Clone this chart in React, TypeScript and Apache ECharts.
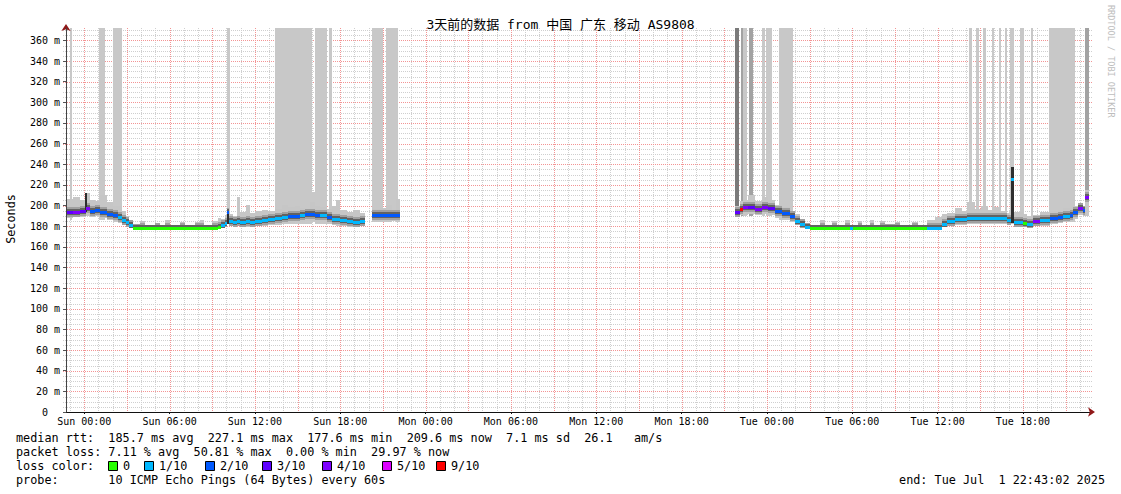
import React, { useEffect, useRef } from 'react';
import * as echarts from 'echarts';

const FONT = '"DejaVu Sans Mono", "Noto Sans CJK SC", monospace';

const chartTitle = '3天前的数据 from 中国 广东 移动 AS9808';
const dayNames = ['Sun', 'Mon', 'Tue'];
const xLabelHours = [0, 6, 12, 18, 24, 30, 36, 42, 48, 54, 60, 66];
const yTickValues = [0, 20, 40, 60, 80, 100, 120, 140, 160, 180, 200, 220, 240, 260, 280, 300, 320, 340, 360];
const xMin = -1.2828; // Sat 22:43:02
const xMax = 70.7172; // Tue 22:43:02
const yMax = 372;

// start hour of each step (hours from Sun 00:00); null median = no data
const times = [
  -1.28, -0.77, -0.28, 0.14, 0.42, 0.77, 1.13, 1.62, 2.04, 2.39, 2.67, 2.95, 3.16, 3.45, 3.94, 4.29, 4.99, 5.34, 5.7, 6.05,
  6.75, 7.1, 7.81, 8.16, 8.44, 9.0, 9.42, 9.63, 9.92, 10.06, 10.2, 10.48, 10.76, 10.97, 11.39, 11.67, 12.03, 12.52, 12.94, 13.43,
  13.92, 14.35, 14.84, 15.19, 15.54, 15.89, 16.24, 16.6, 17.09, 17.44, 17.72, 18.0, 18.5, 18.92, 19.41, 19.76, 20.25, 20.82, 21.24, 21.66,
  21.94, 22.22,
  45.78, 46.13, 46.34, 46.69, 47.19, 47.68, 48.1, 48.59, 49.09, 49.65, 50.0, 50.35, 50.7, 51.05, 51.76, 52.11, 52.6, 52.95, 53.52, 53.87,
  54.08, 54.43, 54.71, 55.27, 55.56, 55.98, 56.33, 57.03, 57.38, 58.23, 58.65, 59.28, 59.85, 60.34, 60.69, 61.25, 61.74, 62.1, 62.66, 63.02,
  63.52, 63.85, 64.42, 64.91, 65.19, 65.4, 66.03, 66.31, 66.74, 67.23, 67.93, 68.5, 68.85, 69.34, 69.55, 69.9, 70.25, 70.39, 70.67,
];
const median = [
  194, 194, 195, 198, 195, 196, 194, 192, 191, 189, 186, 184, 181, 178.5, 178, 178, 178, 178, 178, 178,
  178, 178, 178, 178, 178, 178.5, 179, 181, 183, 193.5, 185, 184, 185, 184.5, 185, 184.5, 185.5, 186, 187, 188,
  189, 189.5, 190, 191, 191.5, 192, 190.5, 191, 189, 187, 186.5, 186, 185, 184.5, 185.5, null, 190.5, 191, 190.5, 191,
  190.5, null,
  194, 196.5, 198.5, 198.5, 197, 198.5, 197.5, 194.5, 192.5, 189.5, 185.5, 182, 179, 178, 178, 178, 178, 178, 178, 178,
  178, 178, 178, 178, 178, 178.5, 178, 178, 178, 178, 178, 178.5, 178.5, 182.5, 185.5, 186.5, 186.5, 187.5, 187.5, 188,
  188, 187.5, 187.5, 186, 226, 184, 183.5, 182, 185, 186, 188, 188.5, 190, 191, 194, 198, 196, 208.5, null,
];
// lost pings out of 10
const lossCount = [
  3, 4, 3, 4, 2, 2, 2, 2, 2, 1, 1, 1, 1, 0, 0, 0, 0, 0, 0, 0,
  0, 0, 0, 0, 0, 0, 0, 1, 1, 2, 1, 1, 1, 1, 1, 1, 1, 1, 1, 1,
  1, 2, 2, 1, 2, 2, 2, 1, 2, 1, 1, 1, 1, 1, 1, 0, 2, 2, 2, 2,
  2, 0,
  3, 9, 4, 3, 4, 4, 3, 2, 2, 2, 1, 1, 1, 0, 0, 0, 0, 0, 0, 1,
  0, 0, 0, 0, 0, 0, 0, 0, 0, 0, 0, 1, 1, 1, 1, 1, 1, 1, 1, 1,
  1, 1, 1, 1, 1, 1, 0, 1, 4, 1, 2, 2, 1, 2, 2, 4, 2, 4, 0,
];
const smokeHi = [
  206, 208, 205, 212, 205, 204, 210, 203, 200, 200, 195, 190, 186, 182, 185, 181, 183, 181, 186, 181,
  184, 181, 184, 186, 181, 185, 188, 187, 191, 198, 192, 190, 208, 194, 201, 193, 195, 196, 195, 197,
  201, 199, 200, 198, 197, 203, 200, 199, 197, 200, 205, 196, 194, 196, 193, 0, 197, 198, 201, 196,
  206, 0,
  200, 204, 205, 210, 204, 208, 205, 201, 199, 195, 192, 187, 183, 181, 186, 181, 185, 181, 186, 181,
  181, 185, 181, 186, 181, 185, 182, 184, 181, 184, 181, 186, 189, 192, 193, 198, 195, 203, 197, 200,
  196, 199, 195, 193, 237, 194, 192, 190, 191, 194, 195, 196, 198, 198, 200, 202, 200, 215, 0,
];
const smokeLo = [
  188, 189, 189, 190, 189, 190, 188, 186, 185, 183, 181, 179, 178, 177, 177, 177, 177, 177, 177, 177,
  177, 177, 177, 177, 177, 177, 177, 178, 179, 182, 180, 179, 180, 179, 179, 179, 180, 180, 181, 181,
  182, 183, 184, 184, 185, 185, 183, 184, 182, 181, 180, 180, 179, 179, 180, 0, 184, 184, 184, 185,
  184, 0,
  189, 191, 191, 192, 191, 192, 191, 188, 186, 184, 181, 178, 177, 177, 177, 177, 177, 177, 177, 177,
  177, 177, 177, 177, 177, 177, 177, 177, 177, 177, 177, 177, 177, 179, 180, 181, 181, 182, 182, 182,
  182, 182, 182, 181, 182, 179, 179, 178, 180, 180, 182, 183, 184, 185, 187, 191, 190, 190, 0,
];

// periods with heavy loss: [start h, end h, bottom, top, shade]
const lossBars: [number, number, number, number, number][] = [
  [-0.98, -0.84, 186, 372, 0], [1.03, 1.48, 186, 372, 0], [2.02, 2.67, 184, 372, 0], [10.04, 10.27, 182, 372, 0],
  [13.43, 16.03, 182, 372, 0], [16.03, 16.24, 184, 213, 0], [16.24, 17.09, 182, 372, 0], [17.23, 17.44, 182, 372, 0],
  [20.25, 21.03, 186, 372, 0], [21.24, 22.08, 186, 372, 0],
  [45.78, 46.06, 190, 372, 2], [46.2, 46.34, 190, 372, 1], [46.34, 46.62, 190, 372, 0], [46.77, 47.05, 190, 372, 1],
  [47.68, 47.89, 190, 372, 0], [47.96, 48.38, 190, 372, 0], [48.88, 49.86, 186, 372, 0],
  [62.24, 62.45, 184, 372, 0], [62.73, 62.94, 184, 372, 0], [63.22, 63.43, 184, 372, 0], [63.85, 64.0, 184, 372, 0],
  [64.35, 64.49, 184, 372, 0], [64.77, 64.91, 184, 372, 0], [65.12, 65.4, 184, 372, 0], [65.82, 66.1, 182, 372, 0],
  [66.6, 66.74, 182, 372, 0], [67.86, 69.69, 184, 372, 0], [70.39, 70.67, 190, 372, 1],
];
// dense smoke columns: [start h, end h, low, high]
const darkBars: [number, number, number, number][] = [
  [0.07, 0.21, 194, 212], [10.06, 10.2, 182, 194], [65.19, 65.4, 183, 237],
];

// grid
const gridHours = [-1, 0, 1, 2, 3, 4, 5, 6, 7, 8, 9, 10, 11, 12, 13, 14, 15, 16, 17, 18, 19, 20, 21, 22, 23, 24, 25, 26, 27, 28, 29, 30,
  31, 32, 33, 34, 35, 36, 37, 38, 39, 40, 41, 42, 43, 44, 45, 46, 47, 48, 49, 50, 51, 52, 53, 54, 55, 56, 57, 58, 59, 60, 61, 62, 63, 64,
  65, 66, 67, 68, 69, 70];
const majorHourStep = 3;
const gridValueStep = 5;
const majorValueStep = 20;

const lossLegend = ['0', '1/10', '2/10', '3/10', '4/10', '5/10', '9/10'];
const lossLegendCount = [0, 1, 2, 3, 4, 5, 9];
const lossColors = ['#26ff00', '#00b8ff', '#0059ff', '#5e00ff', '#7e00ff', '#dd00ff', '#ff0000'];

const statLines = [
  'median rtt:  185.7 ms avg  227.1 ms max  177.6 ms min  209.6 ms now  7.1 ms sd  26.1   am/s',
  'packet loss: 7.11 % avg  50.81 % max  0.00 % min  29.97 % now',
];
const lossColorLabel = 'loss color:';
const probeLine = 'probe:       10 ICMP Echo Pings (64 Bytes) every 60s';
const endLine = 'end: Tue Jul  1 22:43:02 2025';
const yAxisName = 'Seconds';
const watermark = 'RRDTOOL / TOBI OETIKER';

function colorFor(c: number) {
  let idx = 0;
  for (let i = 0; i < lossLegendCount.length; i++) if (c >= lossLegendCount[i]) idx = i;
  return lossColors[idx];
}

const shadeColors = ['#c8c8c8', '#a2a2a2', '#7a7a7a'];
const MINOR = '#cfcfcf';
const MAJOR = '#f39494';

export default function App() {
  const ref = useRef<HTMLDivElement>(null);
  useEffect(() => {
    if (!ref.current) return;
    const chart = echarts.init(ref.current, undefined, { renderer: 'svg' });

    const pts: number[][] = [];
    for (let i = 0; i < times.length - 1; i++) {
      if (median[i] == null) continue;
      pts.push([times[i], times[i + 1], median[i] as number, lossCount[i], smokeHi[i], smokeLo[i]]);
    }
    const vGrid = gridHours.map((h) => [h, h % majorHourStep === 0 ? 1 : 0]);
    const hGrid: number[][] = [];
    for (let v = gridValueStep; v < yMax; v += gridValueStep) hGrid.push([v, v % majorValueStep === 0 ? 1 : 0]);

    const vGridRender = (params: any, api: any) => {
      const cs = params.coordSys;
      const x = Math.round(api.coord([api.value(0), 0])[0]) + 0.5;
      const major = api.value(1) === 1;
      return {
        type: 'line', silent: true,
        shape: { x1: x, y1: cs.y, x2: x, y2: cs.y + cs.height },
        style: { stroke: major ? MAJOR : MINOR, lineWidth: 1, lineDash: [1, 1] },
        z2: major ? 2 : 1,
      };
    };
    const hGridRender = (params: any, api: any) => {
      const cs = params.coordSys;
      const y = Math.round(api.coord([0, api.value(0)])[1]) + 0.5;
      const major = api.value(1) === 1;
      return {
        type: 'line', silent: true,
        shape: { x1: cs.x - 3, y1: y, x2: cs.x + cs.width + 2, y2: y },
        style: { stroke: major ? MAJOR : MINOR, lineWidth: 1, lineDash: [1, 1] },
        z2: major ? 2 : 1,
      };
    };

    const smokeRender = (params: any, api: any) => {
      const t0 = api.value(0), t1 = api.value(1), med = api.value(2), hi = api.value(4), lo = api.value(5);
      const x0 = Math.round(api.coord([t0, 0])[0]);
      const x1 = Math.round(api.coord([t1, 0])[0]);
      const yHi = Math.round(api.coord([t0, hi])[1]);
      const yLo = Math.round(api.coord([t0, lo])[1]);
      const yMed = api.coord([t0, med])[1];
      const band = (up: number, down: number, fill: string) => {
        const top = Math.max(yHi, Math.round(yMed - up));
        const bot = Math.min(yLo, Math.round(yMed + down));
        return { type: 'rect', shape: { x: x0, y: top, width: x1 - x0, height: Math.max(0, bot - top) }, style: { fill } };
      };
      return {
        type: 'group',
        children: [
          { type: 'rect', shape: { x: x0, y: yHi, width: x1 - x0, height: yLo - yHi }, style: { fill: '#c6c6c6' } },
          band(5, 5, '#a0a0a0'),
          band(3, 3, '#626262'),
        ],
      };
    };

    const medianRender = (params: any, api: any) => {
      const t0 = api.value(0), t1 = api.value(1), med = api.value(2), c = api.value(3);
      const x0 = Math.round(api.coord([t0, 0])[0]);
      const x1 = Math.round(api.coord([t1, 0])[0]);
      const y = Math.round(api.coord([t0, med])[1]);
      return { type: 'rect', shape: { x: x0, y: y - 1, width: x1 - x0, height: 3 }, style: { fill: colorFor(c) } };
    };

    const barRender = (params: any, api: any) => {
      const t0 = api.value(0), t1 = api.value(1), b = api.value(2), t = api.value(3), s = api.value(4);
      const p0 = api.coord([t0, b]);
      const p1 = api.coord([t1, t]);
      const x0 = Math.round(p0[0]), x1 = Math.round(p1[0]);
      const y0 = Math.round(p0[1]), y1 = Math.round(p1[1]);
      return { type: 'rect', shape: { x: x0, y: y1, width: Math.max(1, x1 - x0), height: y0 - y1 }, style: { fill: shadeColors[s] } };
    };

    const darkRender = (params: any, api: any) => {
      const t0 = api.value(0), t1 = api.value(1), lo = api.value(2), hi = api.value(3);
      const p0 = api.coord([t0, lo]);
      const p1 = api.coord([t1, hi]);
      const x0 = Math.round(p0[0]), x1 = Math.round(p1[0]);
      const y0 = Math.round(p0[1]), y1 = Math.round(p1[1]);
      return { type: 'rect', shape: { x: x0, y: y1, width: Math.max(1, x1 - x0), height: y0 - y1 }, style: { fill: '#2e2e2e' } };
    };

    const txt = (x: number, y: number, text: string, extra: any = {}) => ({
      type: 'text',
      x, y,
      silent: true,
      style: { text, font: `11.8px ${FONT}`, fill: '#000', textVerticalAlign: 'middle', verticalAlign: 'middle', ...extra },
    });

    const boxX = [108, 144, 205, 262, 322, 382, 436];
    const legendEls: any[] = [];
    lossLegend.forEach((lab, i) => {
      legendEls.push({ type: 'rect', silent: true, shape: { x: boxX[i] + 0.5, y: 461.5, width: 9, height: 9 }, style: { fill: lossColors[i], stroke: '#000', lineWidth: 1 } });
      legendEls.push(txt(boxX[i] + 15, 466, lab));
    });

    const option: any = {
      animation: false,
      backgroundColor: '#fff',
      title: {
        text: chartTitle,
        left: 'center',
        top: 13,
        textStyle: { fontFamily: FONT, fontSize: 13, fontWeight: 'normal', color: '#000' },
      },
      grid: { left: 66, right: 31, top: 28, bottom: 82, containLabel: false, outerBoundsMode: 'none' },
      xAxis: [
        {
          type: 'value', min: xMin, max: xMax, z: 10,
          axisLine: { show: true, onZero: false, lineStyle: { color: '#111', width: 1 } },
          axisTick: { show: true, length: 2, customValues: xLabelHours, lineStyle: { color: '#111' } },
          axisLabel: {
            show: true, customValues: xLabelHours, margin: 4,
            fontFamily: FONT, fontSize: 10, color: '#000',
            formatter: (v: number) => {
              const d = Math.floor(Math.round(v) / 24);
              const hh = Math.round(v) % 24;
              return `${dayNames[d]} ${String(hh).padStart(2, '0')}:00`;
            },
          },
          splitLine: { show: false },
        },
        {
          type: 'value', min: xMin, max: xMax, position: 'bottom', z: 11,
          axisLine: { show: true, onZero: false, symbol: ['none', 'arrow'], symbolSize: [7, 7], symbolOffset: [0, 5], lineStyle: { color: '#901818', width: 0 } },
          axisTick: { show: false }, axisLabel: { show: false }, splitLine: { show: false },
        },
      ],
      yAxis: [
        {
          type: 'value', min: 0, max: yMax, z: 12,
          axisLine: { show: true, onZero: false, lineStyle: { color: '#444', width: 1 } },
          axisTick: { show: true, length: 3, customValues: yTickValues, lineStyle: { color: '#555' } },
          axisLabel: {
            show: true, customValues: yTickValues, margin: 6,
            fontFamily: FONT, fontSize: 10, color: '#000',
            formatter: (v: number) => (v === 0 ? '0\u00a0\u00a0' : `${v} m`),
          },
          splitLine: { show: false },
        },
        {
          type: 'value', min: 0, max: yMax, position: 'left', z: 11,
          axisLine: { show: true, onZero: false, symbol: ['none', 'arrow'], symbolSize: [7, 7], symbolOffset: [0, 4], lineStyle: { color: '#901818', width: 0 } },
          axisTick: { show: false }, axisLabel: { show: false }, splitLine: { show: false },
        },
      ],
      series: [
        {
          type: 'custom', z: 0, silent: true, renderItem: vGridRender, clip: false,
          encode: { x: 0 }, data: vGrid,
        },
        {
          type: 'custom', z: 0, silent: true, renderItem: hGridRender, clip: false,
          encode: { y: 0 }, data: hGrid,
        },
        {
          type: 'custom', z: 2, silent: true, renderItem: barRender,
          encode: { x: [0, 1], y: [2, 3] }, data: lossBars,
        },
        {
          type: 'custom', z: 3, silent: true, renderItem: smokeRender,
          encode: { x: [0, 1], y: [2, 4, 5] }, data: pts,
        },
        {
          type: 'custom', z: 4, silent: true, renderItem: darkRender,
          encode: { x: [0, 1], y: [2, 3] }, data: darkBars,
        },
        {
          type: 'custom', z: 5, silent: true, renderItem: medianRender,
          encode: { x: [0, 1], y: [2] }, data: pts,
        },
      ],
      graphic: [
        txt(16, 438, statLines[0]),
        txt(16, 452, statLines[1]),
        txt(16, 466, lossColorLabel),
        ...legendEls,
        txt(16, 480, probeLine),
        txt(1105, 480, endLine, { textAlign: 'right', align: 'right' }),
        {
          type: 'text', x: 11, y: 219, rotation: Math.PI / 2, silent: true,
          style: { text: yAxisName, font: `11.8px ${FONT}`, fill: '#000', textAlign: 'center', align: 'center', textVerticalAlign: 'middle', verticalAlign: 'middle' },
        },
        {
          type: 'text', x: 1111, y: 5, rotation: -Math.PI / 2, silent: true,
          style: { text: watermark, font: `8.5px ${FONT}`, fill: '#bdbdbd', textAlign: 'left', align: 'left', textVerticalAlign: 'middle', verticalAlign: 'middle' },
        },
      ],
    };

    chart.setOption(option);
    return () => chart.dispose();
  }, []);

  return (
    <div
      ref={ref}
      style={{ position: 'fixed', left: 0, top: 0, width: 1121, height: 494, background: '#fff' }}
    />
  );
}
